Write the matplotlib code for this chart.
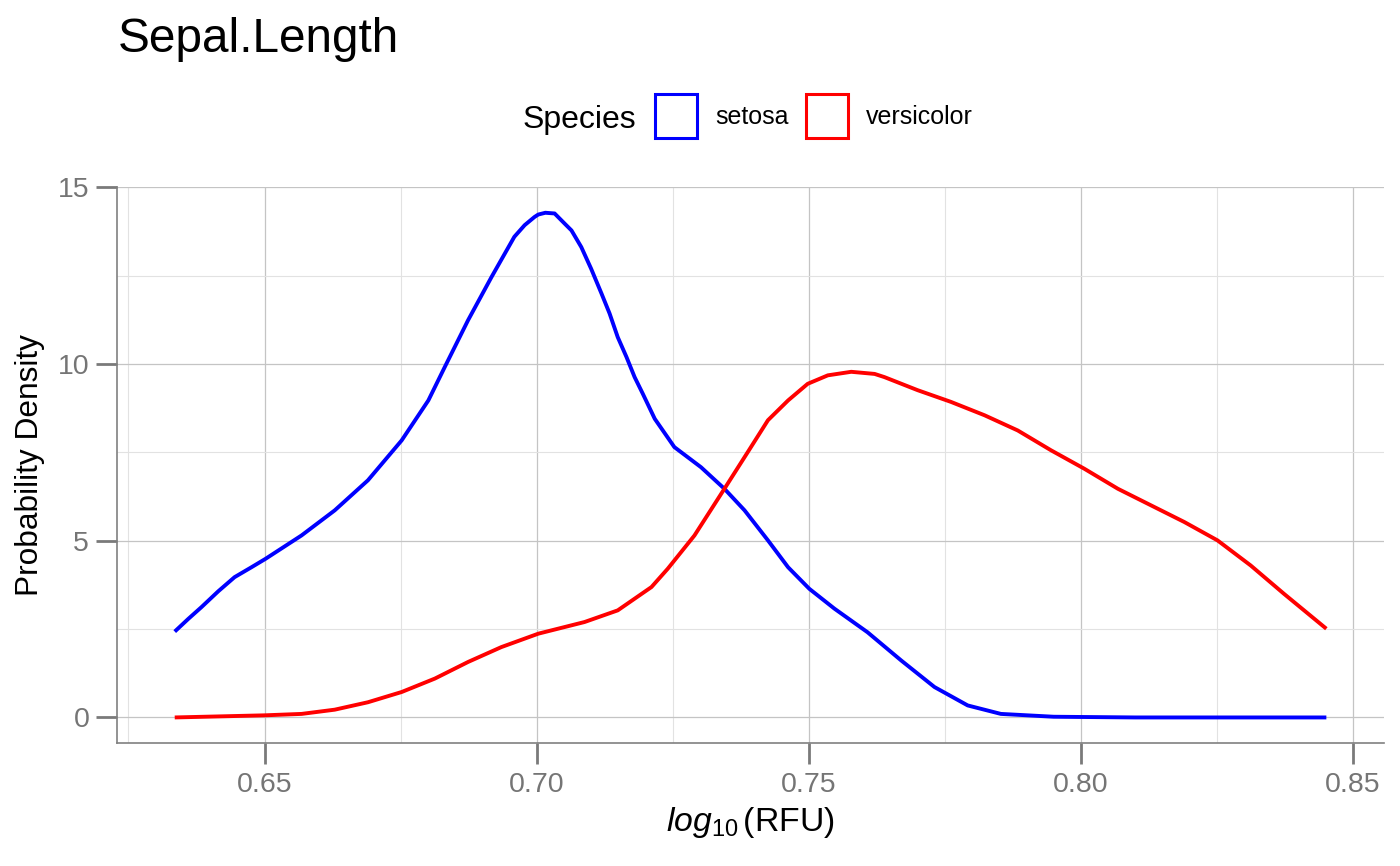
# density curves of log10 sepal length, setosa vs versicolor
import matplotlib
matplotlib.use('Agg')
import matplotlib.pyplot as plt
from matplotlib.patches import Patch
from matplotlib.ticker import MultipleLocator, FormatStrFormatter

plt.rcParams['font.family'] = ['Liberation Sans', 'DejaVu Sans']
plt.rcParams['mathtext.fontset'] = 'custom'
plt.rcParams['mathtext.rm'] = 'Liberation Sans'
plt.rcParams['mathtext.it'] = 'Liberation Sans:italic'

# values
species = ['setosa', 'versicolor']
colors = ['#0000ff', '#ff0000']

setosa_x = [0.6335, 0.6360, 0.6384, 0.6415, 0.6445, 0.6476, 0.6502, 0.6568,
            0.6629, 0.6690, 0.6752, 0.6801, 0.6831, 0.6874, 0.6917, 0.6959,
            0.6978, 0.6996, 0.7003, 0.7016, 0.7033, 0.7051, 0.7064, 0.7082,
            0.7100, 0.7119, 0.7134, 0.7149, 0.7165, 0.7180, 0.7195, 0.7217,
            0.7253, 0.7302, 0.7345, 0.7382, 0.7425, 0.7462, 0.7501, 0.7547,
            0.7608, 0.7670, 0.7731, 0.7792, 0.7853, 0.7950, 0.8100, 0.8451]
setosa_y = [2.43, 2.79, 3.12, 3.57, 3.97, 4.25, 4.49, 5.15,
            5.86, 6.71, 7.84, 8.97, 9.91, 11.24, 12.46, 13.60,
            13.93, 14.16, 14.23, 14.28, 14.26, 13.98, 13.78, 13.31,
            12.70, 12.00, 11.43, 10.76, 10.20, 9.63, 9.16, 8.45,
            7.65, 7.08, 6.47, 5.86, 5.01, 4.25, 3.64, 3.08,
            2.41, 1.61, 0.86, 0.34, 0.10, 0.02, 0.0, 0.0]

versicolor_x = [0.6335, 0.6500, 0.6568, 0.6629, 0.6690, 0.6752, 0.6813, 0.6874,
                0.6935, 0.7003, 0.7088, 0.7149, 0.7180, 0.7211, 0.7241, 0.7290,
                0.7345, 0.7388, 0.7425, 0.7462, 0.7498, 0.7535, 0.7578, 0.7621,
                0.7639, 0.7700, 0.7761, 0.7823, 0.7884, 0.7945, 0.8006, 0.8068,
                0.8129, 0.8190, 0.8251, 0.8312, 0.8373, 0.8451]
versicolor_y = [0.0, 0.06, 0.10, 0.22, 0.43, 0.72, 1.10, 1.57,
                1.99, 2.37, 2.70, 3.03, 3.36, 3.69, 4.21, 5.15,
                6.47, 7.51, 8.41, 8.97, 9.44, 9.68, 9.78, 9.72,
                9.63, 9.26, 8.93, 8.55, 8.12, 7.56, 7.04, 6.47,
                6.00, 5.53, 5.01, 4.30, 3.50, 2.51]

x_ticks = [0.65, 0.70, 0.75, 0.80, 0.85]
y_ticks = [0, 5, 10, 15]

# figure and panel
fig = plt.figure(figsize=(14, 8.66), dpi=100)
ax = fig.add_axes([0.0836, 0.1424, 0.905, 0.6413])

curves = [(setosa_x, setosa_y), (versicolor_x, versicolor_y)]
for (xs, ys), name, col in zip(curves, species, colors):
    ax.plot(xs, ys, color=col, lw=2.8, label=name,
            solid_capstyle='butt', solid_joinstyle='round')

ax.set_xlim(0.6229, 0.8557)
ax.set_ylim(-0.714, 15.0)
ax.set_xticks(x_ticks)
ax.set_yticks(y_ticks)
ax.xaxis.set_major_formatter(FormatStrFormatter('%.2f'))
ax.xaxis.set_minor_locator(MultipleLocator(0.025))
ax.yaxis.set_minor_locator(MultipleLocator(2.5))

# grid and axes look
ax.grid(which='major', color='#c4c4c4', lw=0.9)
ax.grid(which='minor', color='#e2e2e2', lw=0.8)
ax.set_axisbelow(True)
for s in ['top', 'right']:
    ax.spines[s].set_visible(False)
for s in ['left', 'bottom']:
    ax.spines[s].set_color('#808080')
    ax.spines[s].set_linewidth(1.2)
ax.tick_params(which='major', length=15, width=2, color='#7a7a7a',
               labelcolor='#757575', labelsize=20.5)
ax.tick_params(axis='x', which='major', pad=6)
ax.tick_params(axis='y', which='major', pad=5)
ax.tick_params(which='minor', length=0)

# axis titles
ax.set_ylabel('Probability Density', fontsize=22.8, color='black')
ax.yaxis.set_label_coords(-0.0565, 0.5)
ax.set_xlabel(r'$log_{10}\,$(RFU)', fontsize=24.3, color='black')
ax.xaxis.set_label_coords(0.5, -0.112)

# plot title
fig.text(118 / 1400, 1 - 52 / 866, 'Sepal.Length', fontsize=34.4,
         va='baseline', ha='left')

# legend on top, title to the left of the keys
fig.text(523 / 1400, 1 - 128 / 866, 'Species', fontsize=23,
         va='baseline', ha='left')
handles = [Patch(facecolor='white', edgecolor=c, lw=2.2, label=n)
           for n, c in zip(species, colors)]
fig.legend(handles=handles, loc='center left',
           bbox_to_anchor=(655 / 1400, 1 - 116 / 866), ncol=2,
           frameon=False, fontsize=18, handlelength=1.68, handleheight=2.33,
           handletextpad=0.72, columnspacing=0.68, borderpad=0,
           borderaxespad=0)

fig.savefig('out.png', dpi=100)
